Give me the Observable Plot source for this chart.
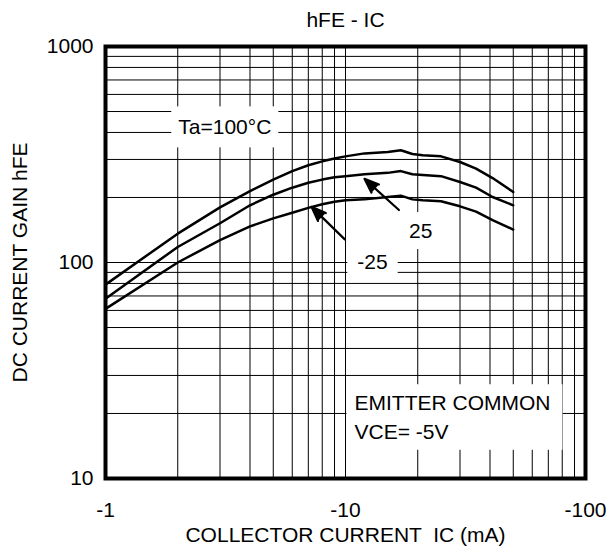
<!DOCTYPE html>
<html>
<head>
<meta charset="utf-8">
<script src="https://cdn.jsdelivr.net/npm/d3@7"></script>
<script src="https://cdn.jsdelivr.net/npm/@observablehq/plot@0.6"></script>
<style>
  html, body { margin: 0; padding: 0; background: #fff; }
  svg { display: block; }
</style>
</head>
<body>
<div id="chart"></div>
<script>
// ---- data ----
const ic = [-1, -2, -3, -4, -5, -6, -7, -8, -9, -10, -12, -15, -17, -19, -21, -25, -30, -35, -41, -50];
const hfeTa100 = [79, 136, 180, 214, 242, 265, 282, 294, 303, 310, 320, 325, 331, 318, 314, 310, 292, 272, 246, 212];
const hfeTa25  = [68, 118, 152, 184, 206, 222, 234, 242, 248, 251, 256, 260, 265, 256, 254, 251, 236, 222, 201, 184];
const hfeTaM25 = [61, 100, 127, 147, 160, 170, 179, 186, 191, 194, 196, 201, 204, 196, 194, 192, 182, 172, 157, 142];
const seriesNames = ["Ta=100°C", "25", "-25"];

const xTicks = [-1, -10, -100];
const yTicks = [10, 100, 1000];
const xGrid = [-2, -3, -4, -5, -6, -7, -8, -9, -10, -20, -30, -40, -50, -60, -70, -80, -90];
const yGrid = [20, 30, 40, 50, 60, 70, 80, 90, 100, 200, 300, 400, 500, 600, 700, 800, 900];

const labelText = ["Ta=100°C", "25", "-25", "EMITTER COMMON\nVCE= -5V"];
const labelIC   = [-2.01, -18.4, -11.2, -10.9];
const labelHFE  = [432, 143, 103, 19.6];

const arrowFromIC  = [-16.7, -9.93];
const arrowFromHFE = [175, 128];
const arrowToIC    = [-12.0, -7.22];
const arrowToHFE   = [244, 181];

const titleText = "hFE - IC";
const xLabel = "COLLECTOR CURRENT  IC (mA)";
const yLabel = "DC CURRENT GAIN hFE";

// ---- style (kept apart from the data) ----
const FONT = "'Liberation Sans', Arial, Helvetica, sans-serif";
const FS = 21;
const boxPads = [[7, 9], [5, 7], [10, 7], [8, 7, 12]]; // [padLeft, padY, padRight?]

// ---- tables built from the arrays ----
const rows = [];
[hfeTa100, hfeTa25, hfeTaM25].forEach((arr, s) =>
  arr.forEach((v, i) => rows.push({series: seriesNames[s], ic: ic[i], hfe: v})));
const labels = labelText.map((t, i) => ({text: t, ic: labelIC[i], hfe: labelHFE[i]}));
const arrows = arrowFromIC.map((_, i) => ({x1: arrowFromIC[i], y1: arrowFromHFE[i], x2: arrowToIC[i], y2: arrowToHFE[i]}));

const chart = Plot.plot({
  width: 609,
  height: 556,
  marginLeft: 105,
  marginRight: 24,
  marginTop: 46,
  marginBottom: 78,
  style: {fontFamily: FONT, fontSize: FS + "px", color: "#000", background: "#fff"},
  x: {type: "log", domain: [-1, -100]},
  y: {type: "log", domain: [10, 1000]},
  marks: [
    Plot.gridX(xGrid, {stroke: "#000", strokeOpacity: 1, strokeWidth: 1}),
    Plot.gridY(yGrid, {stroke: "#000", strokeOpacity: 1, strokeWidth: 1}),
    Plot.text(labels, {x: "ic", y: "hfe", text: "text", textAnchor: "start", fontSize: FS, lineHeight: 1.36, fill: "#000", className: "boxed"}),
    Plot.line(rows, {x: "ic", y: "hfe", z: "series", stroke: "#000", strokeWidth: 2.5, strokeLinejoin: "round"}),
    Plot.arrow(arrows, {x1: "x1", y1: "y1", x2: "x2", y2: "y2", stroke: "#000", fill: "#000", strokeWidth: 2.2, headLength: 17, headAngle: 42}),
    Plot.frame({stroke: "#000", strokeWidth: 4}),
    Plot.axisX({ticks: xTicks, tickSize: 0, tickPadding: 24, tickFormat: d => String(d), label: null, fontSize: FS}),
    Plot.axisY({ticks: yTicks, tickSize: 0, tickPadding: 12, tickFormat: d => String(d), label: null, fontSize: FS}),
    Plot.text([titleText], {frameAnchor: "top", lineAnchor: "middle", textAnchor: "middle", dy: -26, fontSize: FS}),
    Plot.text([xLabel], {frameAnchor: "bottom", lineAnchor: "middle", textAnchor: "middle", dy: 57, fontSize: FS}),
    Plot.text([yLabel], {frameAnchor: "left", lineAnchor: "middle", textAnchor: "middle", dx: -85, rotate: -90, fontSize: FS})
  ]
});

document.getElementById("chart").appendChild(chart);

// white boxes behind annotation texts (sized from the rendered text)
const svgNS = "http://www.w3.org/2000/svg";
chart.querySelectorAll("g.boxed text").forEach((t, i) => {
  const b = t.getBBox();
  const p = boxPads[i] || [8, 8];
  const padL = p[0], padY = p[1], padR = p[2] !== undefined ? p[2] : p[0];
  const r = document.createElementNS(svgNS, "rect");
  r.setAttribute("x", b.x - padL);
  r.setAttribute("y", b.y - padY);
  r.setAttribute("width", b.width + padL + padR);
  r.setAttribute("height", b.height + 2 * padY);
  r.setAttribute("fill", "#fff");
  r.setAttribute("stroke", "none");
  const tr = t.getAttribute("transform");
  if (tr) r.setAttribute("transform", tr);
  t.parentNode.insertBefore(r, t);
});
</script>
</body>
</html>
